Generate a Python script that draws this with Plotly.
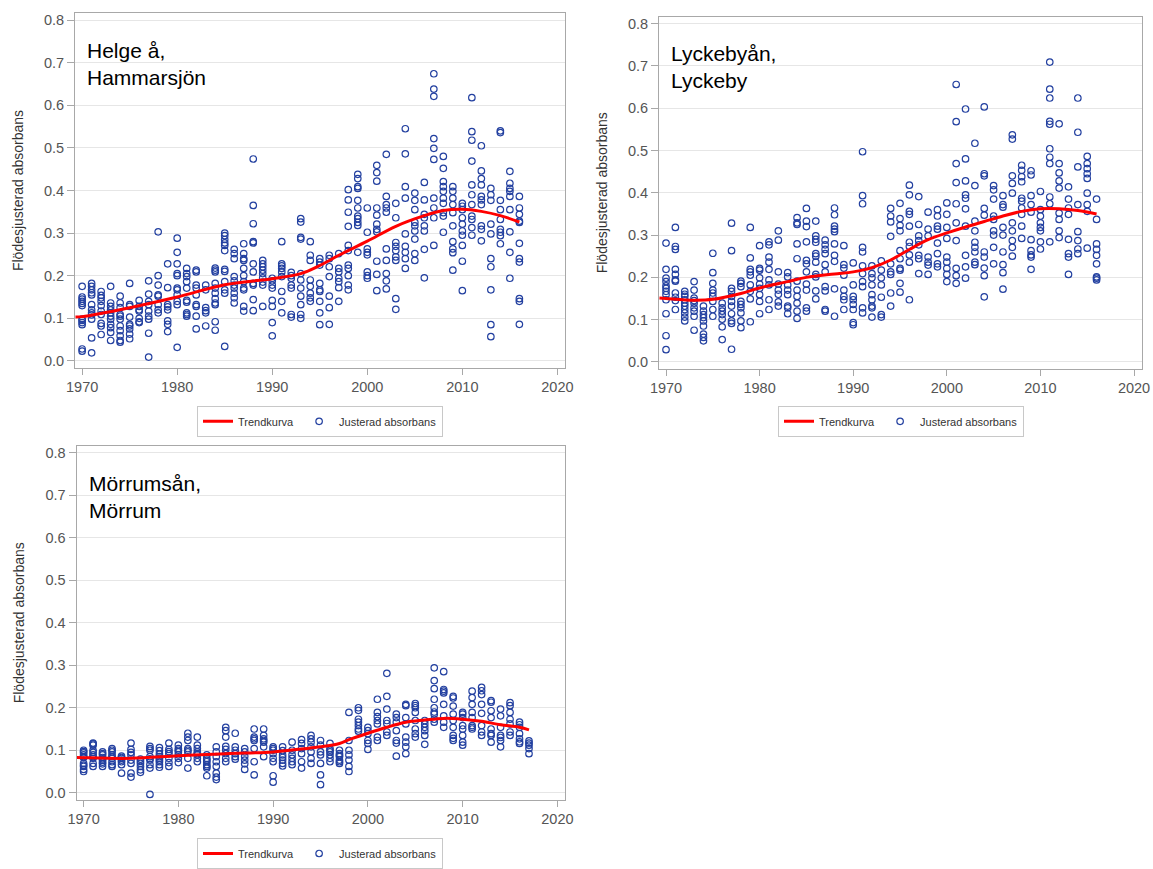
import plotly.graph_objects as go

# ---------------- Data ----------------
years_helge = [1970, 1971, 1972, 1973, 1974, 1975, 1976, 1977, 1978, 1979,
               1980, 1981, 1982, 1983, 1984, 1985, 1986, 1987, 1988, 1989,
               1990, 1991, 1992, 1993, 1994, 1995, 1996, 1997, 1998, 1999,
               2000, 2001, 2002, 2003, 2004, 2005, 2006, 2007, 2008, 2009,
               2010, 2011, 2012, 2013, 2014, 2015, 2016]
values_helge = [
    [0.175, 0.15, 0.145, 0.14, 0.135, 0.13, 0.098, 0.095, 0.09, 0.085, 0.028, 0.023],
    [0.182, 0.175, 0.167, 0.16, 0.155, 0.132, 0.12, 0.113, 0.108, 0.098, 0.054, 0.019],
    [0.163, 0.154, 0.148, 0.14, 0.13, 0.117, 0.109, 0.088, 0.082, 0.062],
    [0.175, 0.136, 0.128, 0.12, 0.113, 0.105, 0.098, 0.086, 0.078, 0.067, 0.048],
    [0.152, 0.136, 0.125, 0.109, 0.105, 0.098, 0.082, 0.071, 0.059, 0.048, 0.044],
    [0.182, 0.132, 0.128, 0.103, 0.086, 0.082, 0.075, 0.063, 0.052],
    [0.142, 0.128, 0.12, 0.117, 0.1, 0.092, 0.09],
    [0.188, 0.157, 0.14, 0.132, 0.117, 0.105, 0.098, 0.065, 0.009],
    [0.303, 0.2, 0.178, 0.155, 0.152, 0.132, 0.12, 0.113],
    [0.228, 0.172, 0.132, 0.127, 0.12, 0.094, 0.086, 0.069],
    [0.288, 0.255, 0.228, 0.205, 0.2, 0.171, 0.167, 0.155, 0.14, 0.132, 0.032],
    [0.217, 0.205, 0.198, 0.186, 0.171, 0.142, 0.138, 0.113, 0.109, 0.105],
    [0.213, 0.209, 0.178, 0.171, 0.155, 0.132, 0.128, 0.105, 0.075],
    [0.178, 0.167, 0.125, 0.118, 0.113, 0.082],
    [0.218, 0.213, 0.209, 0.182, 0.171, 0.159, 0.146, 0.136, 0.132, 0.092, 0.072],
    [0.3, 0.294, 0.285, 0.277, 0.271, 0.259, 0.215, 0.21, 0.186, 0.167, 0.159, 0.034],
    [0.262, 0.252, 0.24, 0.198, 0.188, 0.178, 0.171, 0.159, 0.148, 0.136],
    [0.275, 0.252, 0.24, 0.236, 0.217, 0.2, 0.186, 0.171, 0.167, 0.128, 0.117],
    [0.474, 0.365, 0.322, 0.28, 0.277, 0.228, 0.209, 0.182, 0.178, 0.144, 0.118],
    [0.236, 0.228, 0.221, 0.213, 0.205, 0.195, 0.185, 0.178, 0.128],
    [0.194, 0.188, 0.178, 0.171, 0.142, 0.128, 0.09, 0.059],
    [0.28, 0.228, 0.223, 0.217, 0.209, 0.198, 0.163, 0.14, 0.113],
    [0.208, 0.2, 0.194, 0.178, 0.171, 0.109, 0.103],
    [0.334, 0.326, 0.29, 0.286, 0.205, 0.19, 0.171, 0.152, 0.132, 0.109, 0.1],
    [0.28, 0.248, 0.236, 0.19, 0.175, 0.159, 0.148, 0.14],
    [0.24, 0.232, 0.225, 0.182, 0.167, 0.163, 0.14, 0.113, 0.085],
    [0.248, 0.24, 0.221, 0.198, 0.152, 0.125, 0.086],
    [0.252, 0.217, 0.209, 0.194, 0.186, 0.172, 0.14],
    [0.402, 0.378, 0.349, 0.316, 0.271, 0.259, 0.225, 0.217, 0.2, 0.178, 0.167],
    [0.438, 0.428, 0.409, 0.405, 0.377, 0.359, 0.34, 0.334, 0.325, 0.318, 0.255],
    [0.359, 0.302, 0.263, 0.255, 0.249, 0.209, 0.2, 0.194],
    [0.459, 0.442, 0.422, 0.359, 0.342, 0.321, 0.309, 0.303, 0.234, 0.203, 0.165],
    [0.485, 0.386, 0.367, 0.359, 0.349, 0.263, 0.236, 0.205, 0.188, 0.169],
    [0.37, 0.336, 0.278, 0.269, 0.259, 0.244, 0.236, 0.146, 0.121],
    [0.545, 0.486, 0.409, 0.382, 0.298, 0.269, 0.255, 0.24, 0.217],
    [0.394, 0.377, 0.355, 0.325, 0.317, 0.305, 0.286, 0.252, 0.236],
    [0.419, 0.378, 0.344, 0.336, 0.317, 0.305, 0.262, 0.195],
    [0.674, 0.638, 0.621, 0.522, 0.499, 0.473, 0.382, 0.359, 0.336, 0.271],
    [0.48, 0.452, 0.421, 0.409, 0.398, 0.382, 0.37, 0.348, 0.34, 0.302],
    [0.409, 0.398, 0.382, 0.367, 0.348, 0.317, 0.28, 0.263, 0.254, 0.213],
    [0.37, 0.363, 0.355, 0.336, 0.321, 0.305, 0.295, 0.271, 0.234, 0.165],
    [0.618, 0.538, 0.518, 0.469, 0.413, 0.39, 0.367, 0.34, 0.332, 0.313, 0.295],
    [0.505, 0.446, 0.428, 0.413, 0.386, 0.378, 0.367, 0.317, 0.309, 0.282],
    [0.405, 0.39, 0.377, 0.321, 0.298, 0.24, 0.221, 0.167, 0.085, 0.057],
    [0.54, 0.536, 0.377, 0.355, 0.332, 0.309, 0.302, 0.294, 0.275],
    [0.445, 0.417, 0.405, 0.398, 0.386, 0.355, 0.303, 0.255, 0.194],
    [0.386, 0.359, 0.344, 0.328, 0.325, 0.276, 0.24, 0.232, 0.146, 0.14, 0.086],
]
trend_years_helge = [1969.3, 1970, 1975, 1980, 1985, 1990, 1993, 1995, 1997, 2000,
                     2003, 2006, 2008, 2010, 2012, 2014, 2016]
trend_values_helge = [0.103, 0.104, 0.125, 0.150, 0.179, 0.193, 0.205, 0.224, 0.248, 0.281,
                      0.316, 0.341, 0.353, 0.356, 0.351, 0.341, 0.326]

years_lyckeby = years_helge
values_lyckeby = [
    [0.281, 0.219, 0.198, 0.19, 0.18, 0.174, 0.167, 0.159, 0.147, 0.114, 0.062, 0.029],
    [0.318, 0.273, 0.266, 0.219, 0.207, 0.194, 0.191, 0.163, 0.153, 0.145, 0.124],
    [0.167, 0.16, 0.155, 0.147, 0.139, 0.132, 0.124, 0.116, 0.106, 0.097],
    [0.19, 0.17, 0.151, 0.145, 0.139, 0.128, 0.12, 0.108, 0.075],
    [0.132, 0.12, 0.112, 0.105, 0.097, 0.085, 0.066, 0.058, 0.05],
    [0.257, 0.211, 0.186, 0.17, 0.163, 0.155, 0.143, 0.124, 0.108],
    [0.139, 0.128, 0.12, 0.112, 0.101, 0.083, 0.053],
    [0.328, 0.263, 0.174, 0.167, 0.155, 0.143, 0.132, 0.114, 0.097, 0.091, 0.03],
    [0.191, 0.186, 0.178, 0.143, 0.136, 0.128, 0.116, 0.097, 0.081],
    [0.318, 0.246, 0.219, 0.213, 0.205, 0.182, 0.167, 0.149, 0.095],
    [0.275, 0.221, 0.217, 0.199, 0.184, 0.174, 0.159, 0.143, 0.114],
    [0.284, 0.277, 0.248, 0.236, 0.219, 0.194, 0.182, 0.147, 0.124],
    [0.31, 0.288, 0.213, 0.184, 0.17, 0.16, 0.142, 0.132],
    [0.211, 0.201, 0.182, 0.17, 0.159, 0.132, 0.128, 0.114],
    [0.341, 0.329, 0.325, 0.279, 0.244, 0.191, 0.17, 0.155, 0.139, 0.12, 0.103],
    [0.363, 0.333, 0.32, 0.284, 0.24, 0.232, 0.213, 0.184, 0.17, 0.128, 0.12],
    [0.333, 0.298, 0.29, 0.283, 0.256, 0.25, 0.236, 0.207, 0.201, 0.168, 0.149],
    [0.288, 0.277, 0.266, 0.256, 0.23, 0.213, 0.178, 0.168, 0.124, 0.12],
    [0.364, 0.348, 0.321, 0.314, 0.308, 0.279, 0.252, 0.238, 0.173, 0.108],
    [0.275, 0.23, 0.222, 0.205, 0.17, 0.155, 0.147, 0.124],
    [0.234, 0.182, 0.155, 0.147, 0.136, 0.124, 0.093, 0.088],
    [0.497, 0.393, 0.374, 0.271, 0.26, 0.227, 0.209, 0.19, 0.178, 0.128, 0.116],
    [0.227, 0.209, 0.199, 0.182, 0.159, 0.147, 0.132, 0.128, 0.106],
    [0.239, 0.217, 0.199, 0.182, 0.153, 0.112, 0.106],
    [0.363, 0.345, 0.331, 0.297, 0.232, 0.213, 0.207, 0.163, 0.132],
    [0.375, 0.339, 0.323, 0.31, 0.263, 0.244, 0.221, 0.217, 0.186, 0.165],
    [0.418, 0.395, 0.356, 0.349, 0.321, 0.283, 0.273, 0.253, 0.236, 0.147],
    [0.391, 0.325, 0.298, 0.287, 0.277, 0.252, 0.244, 0.209],
    [0.354, 0.314, 0.298, 0.248, 0.236, 0.229, 0.207],
    [0.36, 0.345, 0.321, 0.314, 0.281, 0.256, 0.232, 0.225],
    [0.376, 0.349, 0.318, 0.292, 0.248, 0.236, 0.221, 0.207, 0.19],
    [0.656, 0.568, 0.469, 0.424, 0.374, 0.329, 0.287, 0.221, 0.204, 0.186],
    [0.598, 0.48, 0.428, 0.395, 0.387, 0.362, 0.321, 0.252, 0.225, 0.198],
    [0.517, 0.417, 0.333, 0.31, 0.283, 0.271, 0.26, 0.236, 0.23],
    [0.603, 0.445, 0.44, 0.363, 0.347, 0.26, 0.248, 0.222, 0.204, 0.154],
    [0.417, 0.407, 0.385, 0.345, 0.337, 0.31, 0.3, 0.271, 0.232],
    [0.393, 0.372, 0.366, 0.318, 0.3, 0.26, 0.23, 0.211, 0.172],
    [0.537, 0.527, 0.44, 0.422, 0.399, 0.329, 0.31, 0.287, 0.271, 0.25],
    [0.465, 0.453, 0.438, 0.426, 0.387, 0.38, 0.364, 0.349, 0.321, 0.292],
    [0.452, 0.442, 0.393, 0.372, 0.354, 0.289, 0.263, 0.253, 0.248, 0.219],
    [0.403, 0.36, 0.345, 0.329, 0.318, 0.31, 0.284, 0.267],
    [0.709, 0.645, 0.624, 0.569, 0.562, 0.504, 0.484, 0.469, 0.39, 0.374, 0.284],
    [0.563, 0.469, 0.447, 0.428, 0.411, 0.352, 0.337, 0.31, 0.294],
    [0.414, 0.385, 0.364, 0.349, 0.29, 0.256, 0.248, 0.207],
    [0.624, 0.543, 0.461, 0.372, 0.308, 0.287, 0.267, 0.256],
    [0.486, 0.469, 0.457, 0.445, 0.434, 0.399, 0.372, 0.356, 0.269],
    [0.385, 0.337, 0.279, 0.266, 0.252, 0.232, 0.201, 0.198, 0.194],
]
trend_years_lyckeby = [1969.3, 1970, 1973, 1975, 1978, 1980, 1983, 1985, 1988, 1990, 1992,
                       1994, 1996, 1998, 2000, 2002, 2004, 2006, 2008, 2010, 2012, 2014, 2016]
trend_values_lyckeby = [0.151, 0.150, 0.146, 0.148, 0.162, 0.175, 0.190, 0.200, 0.208, 0.213, 0.223,
                        0.241, 0.266, 0.289, 0.305, 0.319, 0.332, 0.345, 0.356, 0.362, 0.362, 0.358, 0.350]

years_morrum = [1970, 1971, 1972, 1973, 1974, 1975, 1976, 1977, 1978, 1979,
                1980, 1981, 1982, 1983, 1984, 1985, 1986, 1987, 1988, 1989,
                1990, 1991, 1992, 1993, 1994, 1995, 1996, 1997, 1998, 1999,
                2000, 2001, 2002, 2003, 2004, 2005, 2006, 2007, 2008, 2009,
                2010, 2011, 2012, 2013, 2014, 2015, 2016, 2017]
values_morrum = [
    [0.1, 0.097, 0.094, 0.089, 0.085, 0.083, 0.069, 0.065, 0.062, 0.055, 0.05],
    [0.117, 0.115, 0.112, 0.1, 0.095, 0.089, 0.085, 0.081, 0.069, 0.062],
    [0.096, 0.092, 0.089, 0.083, 0.08, 0.077, 0.072, 0.068, 0.062],
    [0.104, 0.1, 0.096, 0.089, 0.085, 0.081, 0.073, 0.066, 0.062],
    [0.086, 0.083, 0.081, 0.077, 0.073, 0.066, 0.046],
    [0.117, 0.102, 0.095, 0.089, 0.077, 0.069, 0.046, 0.037],
    [0.079, 0.074, 0.069, 0.062, 0.054, 0.048],
    [0.109, 0.104, 0.1, 0.085, 0.08, 0.077, 0.066, 0.058, -0.004],
    [0.106, 0.099, 0.091, 0.085, 0.081, 0.077, 0.073, 0.066, 0.06],
    [0.117, 0.102, 0.097, 0.092, 0.081, 0.071, 0.062],
    [0.112, 0.104, 0.1, 0.096, 0.089, 0.081, 0.071],
    [0.14, 0.131, 0.123, 0.104, 0.1, 0.096, 0.081, 0.058],
    [0.131, 0.112, 0.104, 0.096, 0.092, 0.089, 0.081, 0.073],
    [0.089, 0.081, 0.077, 0.073, 0.066, 0.062, 0.058, 0.04],
    [0.108, 0.096, 0.085, 0.073, 0.062, 0.046, 0.037, 0.031],
    [0.154, 0.146, 0.131, 0.109, 0.102, 0.092, 0.081, 0.073],
    [0.14, 0.108, 0.1, 0.092, 0.085, 0.079],
    [0.104, 0.096, 0.086, 0.077, 0.068, 0.055],
    [0.15, 0.131, 0.127, 0.123, 0.104, 0.073, 0.042],
    [0.15, 0.135, 0.127, 0.123, 0.119, 0.108, 0.085],
    [0.108, 0.104, 0.1, 0.092, 0.081, 0.073, 0.04, 0.025],
    [0.108, 0.099, 0.089, 0.083, 0.077, 0.069, 0.063],
    [0.119, 0.1, 0.089, 0.081, 0.073, 0.066],
    [0.125, 0.116, 0.104, 0.092, 0.073, 0.058],
    [0.135, 0.127, 0.119, 0.108, 0.096, 0.081, 0.069],
    [0.123, 0.112, 0.096, 0.089, 0.069, 0.042, 0.019],
    [0.116, 0.104, 0.1, 0.096, 0.089, 0.081, 0.073],
    [0.1, 0.092, 0.088, 0.085, 0.077, 0.073, 0.069],
    [0.189, 0.123, 0.1, 0.089, 0.077, 0.062, 0.05],
    [0.2, 0.194, 0.173, 0.166, 0.158, 0.15, 0.145],
    [0.154, 0.146, 0.139, 0.123, 0.116, 0.102],
    [0.22, 0.189, 0.179, 0.17, 0.162, 0.131, 0.123],
    [0.281, 0.227, 0.197, 0.17, 0.163, 0.143, 0.135],
    [0.185, 0.177, 0.166, 0.146, 0.123, 0.117, 0.086],
    [0.208, 0.205, 0.177, 0.162, 0.131, 0.119, 0.108, 0.092],
    [0.21, 0.205, 0.2, 0.189, 0.17, 0.15, 0.139, 0.131],
    [0.17, 0.162, 0.154, 0.146, 0.135, 0.114],
    [0.294, 0.264, 0.245, 0.22, 0.2, 0.19, 0.185, 0.173, 0.166],
    [0.285, 0.243, 0.239, 0.235, 0.208, 0.181, 0.166, 0.154],
    [0.227, 0.223, 0.204, 0.185, 0.17, 0.154, 0.135, 0.128, 0.123],
    [0.189, 0.185, 0.177, 0.158, 0.15, 0.135, 0.119, 0.112],
    [0.239, 0.224, 0.208, 0.189, 0.177, 0.158, 0.154, 0.15],
    [0.248, 0.24, 0.231, 0.208, 0.187, 0.158, 0.143, 0.135],
    [0.217, 0.213, 0.193, 0.177, 0.15, 0.139, 0.135, 0.119],
    [0.197, 0.181, 0.154, 0.135, 0.13, 0.123, 0.108],
    [0.212, 0.205, 0.189, 0.173, 0.162, 0.143, 0.135],
    [0.166, 0.16, 0.154, 0.139, 0.127, 0.12, 0.116],
    [0.122, 0.117, 0.112, 0.104, 0.092],
]
trend_years_morrum = [1969.3, 1970, 1975, 1980, 1985, 1990, 1993, 1995, 1997, 1998, 2000,
                      2002, 2004, 2006, 2008, 2010, 2012, 2014, 2016, 2017]
trend_values_morrum = [0.083, 0.0825, 0.081, 0.087, 0.092, 0.096, 0.103, 0.108, 0.116, 0.125, 0.140,
                       0.154, 0.166, 0.171, 0.175, 0.173, 0.168, 0.160, 0.154, 0.148]

panel_titles = ["Helge å,<br>Hammarsjön", "Lyckebyån,<br>Lyckeby", "Mörrumsån,<br>Mörrum"]
y_title = "Flödesjusterad absorbans"
x_ticks = [1970, 1980, 1990, 2000, 2010, 2020]
y_ticks = [0.0, 0.1, 0.2, 0.3, 0.4, 0.5, 0.6, 0.7, 0.8]

# ---------------- Styling ----------------
W, H = 1153, 869
FONT = "Liberation Sans, Arial, sans-serif"
MARKER_COLOR = "#2340A0"
TREND_COLOR = "#FF0000"
TEXT_COLOR = "#555555"
FRAME_COLOR = "#A8A8A8"
GRID_COLOR = "#E6E6E6"

# pixel boxes of each plot frame: (left, right, top, bottom)
boxes = [(75, 565, 13.5, 374.2), (659, 1141.5, 17.1, 375.2), (76.5, 565, 453.8, 813.6)]
legend_pos = [(320, 413), (901, 413), (320, 853)]

fig = go.Figure()

panels = [
    (years_helge, values_helge, trend_years_helge, trend_values_helge),
    (years_lyckeby, values_lyckeby, trend_years_lyckeby, trend_values_lyckeby),
    (years_morrum, values_morrum, trend_years_morrum, trend_values_morrum),
]

for i, (yrs, vals, tyrs, tvals) in enumerate(panels):
    n = "" if i == 0 else str(i + 1)
    xs, ys = [], []
    for yr, vl in zip(yrs, vals):
        xs.extend([yr] * len(vl))
        ys.extend(vl)
    leg = "legend" + n
    fig.add_trace(go.Scatter(
        x=xs, y=ys, mode="markers", name="Justerad absorbans",
        marker=dict(symbol="circle-open", size=6.5, color=MARKER_COLOR,
                    line=dict(width=1.2, color=MARKER_COLOR)),
        xaxis="x" + n, yaxis="y" + n, legend=leg, legendrank=2, cliponaxis=False,
    ))
    fig.add_trace(go.Scatter(
        x=tyrs, y=tvals, mode="lines", name="Trendkurva",
        line=dict(color=TREND_COLOR, width=3, shape="spline", smoothing=1.0),
        xaxis="x" + n, yaxis="y" + n, legend=leg, legendrank=1,
    ))

layout = dict(
    width=W, height=H,
    margin=dict(l=0, r=0, t=0, b=0),
    paper_bgcolor="white", plot_bgcolor="white",
    font=dict(family=FONT, color=TEXT_COLOR, size=14),
    annotations=[],
)

for i, (l, r, t, b) in enumerate(boxes):
    n = "" if i == 0 else str(i + 1)
    layout["xaxis" + n] = dict(
        domain=[l / W, r / W], range=[1969.25, 2020.8], anchor="y" + n,
        tickvals=x_ticks, ticks="outside", ticklen=6, tickcolor=FRAME_COLOR,
        showline=True, linecolor=FRAME_COLOR, linewidth=1, mirror=True,
        showgrid=False, zeroline=False, automargin=False,
        tickfont=dict(size=14.5, color=TEXT_COLOR),
    )
    layout["yaxis" + n] = dict(
        domain=[1 - b / H, 1 - t / H], range=[-0.016, 0.816], anchor="x" + n,
        tickvals=y_ticks, tickformat=".1f", ticks="outside", ticklen=7, tickcolor=FRAME_COLOR,
        showline=True, linecolor=FRAME_COLOR, linewidth=1, mirror=True,
        showgrid=True, gridcolor=GRID_COLOR, gridwidth=1, zeroline=False, automargin=False,
        tickfont=dict(size=14.5, color=TEXT_COLOR),
        title=dict(text=y_title, font=dict(size=14, color="#333333"), standoff=17),
    )
    lx, ly = legend_pos[i]
    layout["legend" + n] = dict(
        x=lx / W, y=1 - ly / H, xanchor="center", yanchor="top",
        orientation="h", bordercolor="#C8C8C8", borderwidth=1, bgcolor="white",
        font=dict(size=11, color="#333333"), tracegroupgap=0,
        xref="paper", yref="paper", traceorder="normal",
    )
    layout["annotations"].append(dict(
        text=panel_titles[i], xref="paper", yref="paper",
        x=(l + 10) / W, y=1 - (t + 24) / H, xanchor="left", yanchor="top",
        showarrow=False, align="left",
        font=dict(family=FONT, size=21, color="black"),
    ))

fig.update_layout(**layout)
fig.write_html("out.html", config={"displayModeBar": False},
               post_script="document.body.style.margin='0';document.body.style.overflow='hidden';")
